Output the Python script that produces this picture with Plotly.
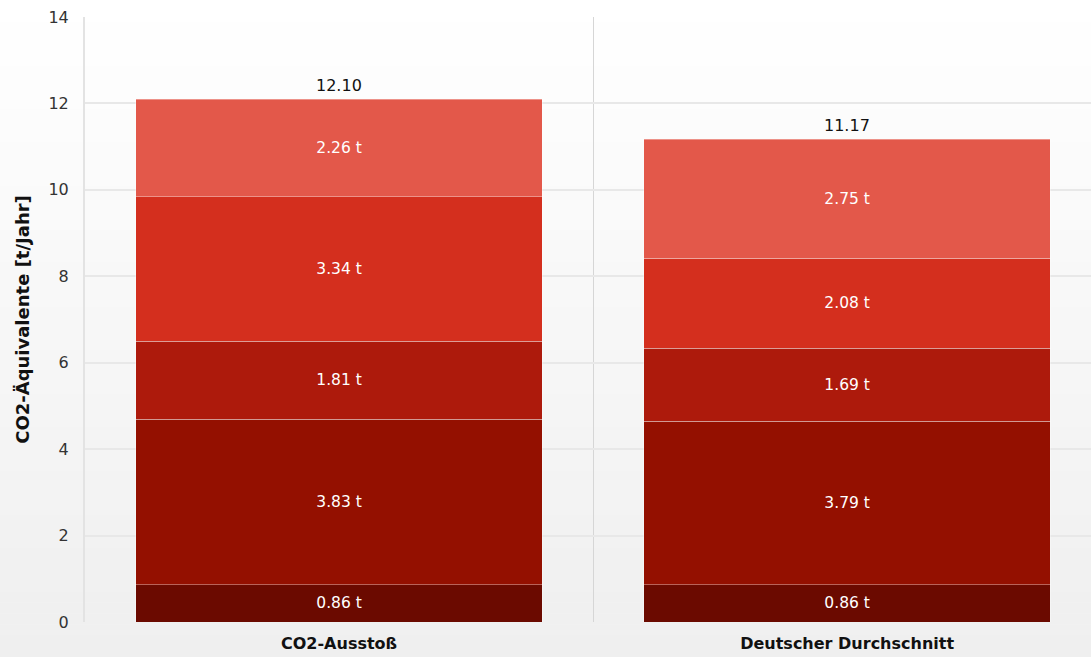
import plotly.graph_objects as go

categories = ["CO2-Ausstoß", "Deutscher Durchschnitt"]
seg1 = [0.86, 0.86]
seg2 = [3.83, 3.79]
seg3 = [1.81, 1.69]
seg4 = [3.34, 2.08]
seg5 = [2.26, 2.75]
totals = [12.10, 11.17]
y_ticks = [0, 2, 4, 6, 8, 10, 12, 14]

colors = ["#6b0a00", "#941000", "#ad1a0c", "#d42f1e", "#e3584a"]
series = [seg1, seg2, seg3, seg4, seg5]

FONT = "DejaVu Sans, Arial, sans-serif"
fig = go.Figure()
for vals, col in zip(series, colors):
    fig.add_trace(go.Bar(
        x=categories, y=vals, marker=dict(color=col, line=dict(color="rgba(255,255,255,0.35)", width=1)),
        text=[f"{v:.2f} t" for v in vals], textposition="inside", insidetextanchor="middle",
        textfont=dict(color="white", size=15.5, family=FONT), textangle=0,
        width=0.8, showlegend=False, hoverinfo="skip",
    ))

annotations = [dict(x=c, y=t, xref="x", yref="y", text=f"{t:.2f}", showarrow=False,
                    yanchor="bottom", yshift=2, font=dict(color="#111", size=16, family=FONT))
               for c, t in zip(categories, totals)]

# vertical gradient background (white -> light gray)
n = 60
shapes = []
for i in range(n):
    f = i / (n - 1)
    c = int(round(255 - f * (255 - 239)))
    shapes.append(dict(type="rect", xref="paper", yref="paper",
                       x0=-0.2, x1=1.2,
                       y0=1 + 17/605 - (i + 1) * (657/605) / n - 0.001,
                       y1=1 + 17/605 - i * (657/605) / n,
                       fillcolor=f"rgb({c},{c},{c})", line=dict(width=0), layer="below"))

fig.update_layout(
    width=1091, height=657,
    margin=dict(l=85, r=0, t=17, b=35),
    barmode="stack", bargap=0.2,
    paper_bgcolor="rgba(0,0,0,0)", plot_bgcolor="rgba(0,0,0,0)",
    font=dict(family=FONT, color="#333"),
    shapes=shapes, annotations=annotations,
    xaxis=dict(range=[-0.5, 1.48], tickson="boundaries", showgrid=True, gridcolor="#d6d6d6", gridwidth=1,
               ticks="", ticklabelstandoff=10,
               tickfont=dict(size=16, color="#111", family=FONT),
               showline=False, zeroline=False),
    yaxis=dict(range=[0, 14], tickvals=y_ticks, showgrid=True, gridcolor="#e8e8e8", gridwidth=2,
               ticks="", ticklabelstandoff=11, tickfont=dict(size=16, color="#333"),
               showline=True, linecolor="#e3e3e3", linewidth=2, zeroline=False,
               title=dict(text="<b>CO2-Äquivalente [t/Jahr]</b>", font=dict(size=18, color="#111"), standoff=14)),
)
fig.update_xaxes(tickprefix="<b>", ticksuffix="</b>")

fig.write_html("out.html")
